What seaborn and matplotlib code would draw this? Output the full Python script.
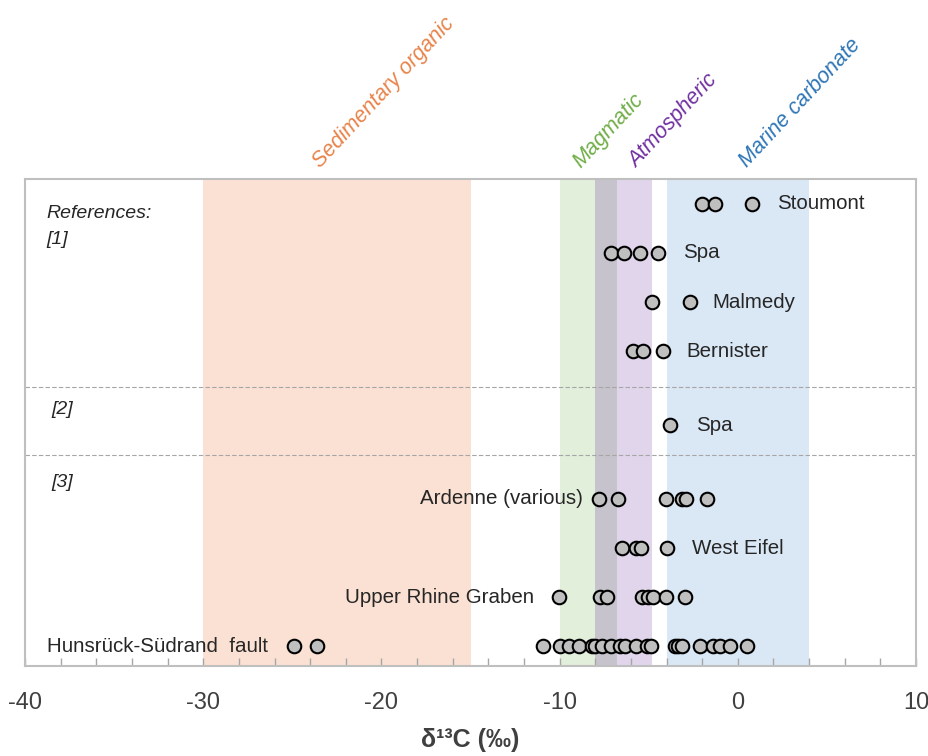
##  d13C of CO2 by locality, with source ranges as shaded bands

import matplotlib
matplotlib.use("Agg")
import matplotlib.pyplot as plt
import seaborn as sns
import pandas as pd

    #----------------------------------------------------
    # DATA
    #----------------------------------------------------

locations = ["Stoumont", "Spa", "Malmedy", "Bernister", "Spa",
             "Ardenne (various)", "West Eifel", "Upper Rhine Graben",
             "Hunsrück-Südrand  fault"]
row_pos = [10, 9, 8, 7, 5.5, 4, 3, 2, 1]
label_side = ["right", "right", "right", "right", "right",
              "left", "right", "left", "left"]
label_gap = [1.4, 1.4, 1.3, 1.3, 1.45, 0.9, 1.45, 1.4, 1.45]

stoumont = [-2.0, -1.3, 0.8]
spa_1 = [-7.1, -6.4, -5.5, -4.5]
malmedy = [-4.8, -2.7]
bernister = [-5.9, -5.3, -4.2]
spa_2 = [-3.8]
ardenne = [-7.8, -6.7, -4.05, -3.15, -2.9, -1.75]
west_eifel = [-6.5, -5.7, -5.45, -4.0]
upper_rhine = [-10.05, -7.75, -7.35, -5.4, -5.05, -4.75, -4.05, -2.95]
hunsruck = [-24.9, -23.6, -10.95, -10.0, -9.45, -8.9, -8.2, -8.0, -7.65,
            -7.1, -6.6, -6.35, -5.7, -5.1, -4.85, -3.55, -3.35, -3.15,
            -2.1, -1.4, -1.0, -0.45, 0.5]
all_values = [stoumont, spa_1, malmedy, bernister, spa_2, ardenne,
              west_eifel, upper_rhine, hunsruck]

# source ranges (per mil)
band_names = ["Sedimentary organic", "Magmatic", "", "Atmospheric", "Marine carbonate"]
band_lo = [-30, -10, -8, -6.8, -4]
band_hi = [-15, -8, -6.8, -4.8, 4]
band_fill = ["#FBE1D3", "#E2EFDA", "#C6C3CC", "#E1D5EC", "#DAE7F5"]
band_text = ["#E8834A", "#70AD47", "", "#7030A0", "#2E75B6"]
band_label_x = [-23.2, -8.6, 0, -5.5, 0.7]

ref_labels = ["References:", "[1]", "[2]", "[3]"]
ref_y = [9.8, 9.27, 5.81, 4.34]
group_breaks = [6.28, 4.9]

    #----------------------------------------------------
    # PLOT
    #----------------------------------------------------

def main():
    rows = []
    for name, y, vals in zip(locations, row_pos, all_values):
        for v in vals:
            rows.append({"loc": name, "y": y, "d13C": v})
    df = pd.DataFrame(rows)

    sns.set_style("white")
    plt.rcParams["font.family"] = ["Liberation Sans", "DejaVu Sans"]
    plt.rcParams["axes.unicode_minus"] = False

    fig = plt.figure(figsize=(9.29, 7.56), dpi=100)
    ax = fig.add_axes([0.027, 0.119, 0.959, 0.644])

    for lo, hi, c in zip(band_lo, band_hi, band_fill):
        ax.axvspan(lo, hi, color=c, lw=0, zorder=0)

    for yb in group_breaks:
        ax.axhline(yb, color="#A6A6A6", lw=0.8, ls=(0, (4, 2)), zorder=1)

    sns.scatterplot(data=df, x="d13C", y="y", ax=ax, s=95, color="#BFBFBF",
                    edgecolor="black", linewidth=1.5, zorder=3, legend=False)

    # locality labels next to their points
    for name, y, vals, side, gap in zip(locations, row_pos, all_values,
                                        label_side, label_gap):
        if side == "right":
            ax.text(max(vals) + gap, y, name, ha="left", va="center",
                    fontsize=14.8, color="#262626")
        else:
            ax.text(min(vals) - gap, y, name, ha="right", va="center",
                    fontsize=14.8, color="#262626")

    for txt, y in zip(ref_labels, ref_y):
        xx = -38.8 if txt in ("References:", "[1]") else -38.5
        ax.text(xx, y, txt, ha="left", va="center", fontsize=14,
                style="italic", color="#262626")

    # band names above the frame
    for name, x, c in zip(band_names, band_label_x, band_text):
        if name == "":
            continue
        ax.text(x, 10.65, name, rotation=47, rotation_mode="anchor",
                ha="left", va="bottom", fontsize=15.5, style="italic",
                color=c, clip_on=False)

    ax.set_xlim(-40, 10)
    ax.set_ylim(0.6, 10.5)
    ax.set_yticks([])
    ax.set_xticks([-40, -30, -20, -10, 0, 10])
    ax.set_xticks(range(-40, 11, 2), minor=True)
    ax.tick_params(axis="x", which="both", direction="in", length=6,
                   color="#A6A6A6", width=1, bottom=True)
    ax.tick_params(axis="x", which="major", labelsize=17, pad=19,
                   labelcolor="#404040")
    ax.set_xlabel("δ¹³C (‰)", fontsize=18, fontweight="bold",
                  color="#404040", labelpad=10)
    ax.set_ylabel("")
    for sp in ax.spines.values():
        sp.set_color("#BFBFBF")
        sp.set_linewidth(1.5)

    fig.savefig("out.png", dpi=100)


if __name__ == '__main__':
    main()
